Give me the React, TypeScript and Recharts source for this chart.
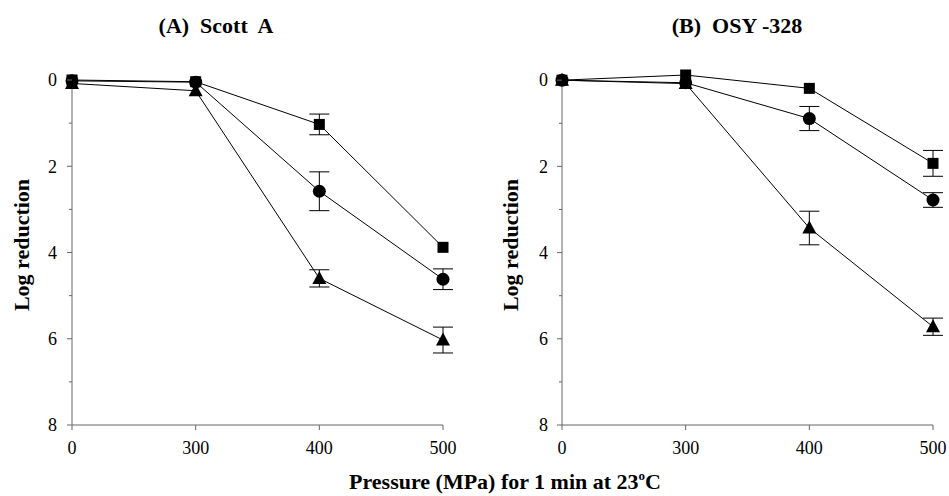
import React from 'react';
import { LineChart, Line, XAxis, YAxis, ErrorBar } from 'recharts';

// ---- data ----
const pressures = ['0', '300', '400', '500'];
const yTicks = [0, 1, 2, 3, 4, 5, 6, 7, 8];

// (A) Scott A
const scottSquare = [0, 0.04, 1.03, 3.88];
const scottSquareErr = [0, 0, 0.24, 0];
const scottCircle = [0.02, 0.05, 2.58, 4.62];
const scottCircleErr = [0, 0, 0.45, 0.24];
const scottTriangle = [0.08, 0.25, 4.6, 6.03];
const scottTriangleErr = [0, 0, 0.2, 0.3];

// (B) OSY-328
const osySquare = [0, -0.12, 0.19, 1.93];
const osySquareErr = [0, 0, 0, 0.3];
const osyCircle = [0, 0.06, 0.89, 2.78];
const osyCircleErr = [0, 0, 0.28, 0.17];
const osyTriangle = [0, 0.08, 3.43, 5.72];
const osyTriangleErr = [0, 0, 0.39, 0.2];

const buildRows = (
  sq: number[], sqE: number[], ci: number[], ciE: number[], tr: number[], trE: number[]
) =>
  pressures.map((p, i) => ({
    p,
    sq: sq[i], sqE: sqE[i],
    ci: ci[i], ciE: ciE[i],
    tr: tr[i], trE: trE[i],
  }));

const scottRows = buildRows(scottSquare, scottSquareErr, scottCircle, scottCircleErr, scottTriangle, scottTriangleErr);
const osyRows = buildRows(osySquare, osySquareErr, osyCircle, osyCircleErr, osyTriangle, osyTriangleErr);

const FONT = "'Liberation Serif', 'DejaVu Serif', serif";
const AXIS = '#666';
const TICK_SIZE = 5;
const TICK_FONT = 18;

const SquareDot = (props: any) => {
  const { cx, cy } = props;
  if (cx == null || cy == null) return null;
  return <rect x={cx - 5.5} y={cy - 5.5} width={11} height={11} fill="#000" />;
};
const CircleDot = (props: any) => {
  const { cx, cy } = props;
  if (cx == null || cy == null) return null;
  return <circle cx={cx} cy={cy} r={6.5} fill="#000" />;
};
const TriangleDot = (props: any) => {
  const { cx, cy } = props;
  if (cx == null || cy == null) return null;
  return <polygon points={`${cx},${cy - 7.5} ${cx - 7},${cy + 5.5} ${cx + 7},${cy + 5.5}`} fill="#000" />;
};

const makeYTick = (margin: number) => (props: any) => {
  const { x, y, payload } = props;
  const v = payload.value;
  const major = v % 2 === 0;
  const ax = x + margin + TICK_SIZE;
  return (
    <g>
      <line x1={ax - (major ? TICK_SIZE : 3)} x2={ax} y1={y} y2={y} stroke={AXIS} strokeWidth={1} />
      {major && (
        <text x={x} y={y} dy="0.35em" textAnchor="end" style={{ fontFamily: FONT, fontSize: TICK_FONT }} fill="#000">
          {v}
        </text>
      )}
    </g>
  );
};

const XTick = (props: any) => {
  const { x, y, payload } = props;
  return (
    <text x={x} y={y} dy="0.68em" textAnchor="middle" style={{ fontFamily: FONT, fontSize: TICK_FONT }} fill="#000">
      {payload.value}
    </text>
  );
};

const Panel = ({ rows, width, yAxisWidth, marginTop, marginRight, tickMargin }: any) => (
  <LineChart
    width={width}
    height={496}
    data={rows}
    margin={{ top: marginTop, right: marginRight, bottom: 41, left: 0 }}
  >
    <XAxis
      dataKey="p"
      type="category"
      interval={0}
      height={30}
      stroke={AXIS}
      tickSize={TICK_SIZE}
      tickMargin={12}
      tick={XTick}
    />
    <YAxis
      type="number"
      reversed
      domain={[0, 8]}
      ticks={yTicks}
      interval={0}
      width={yAxisWidth}
      stroke={AXIS}
      tickLine={false}
      tickSize={TICK_SIZE}
      tickMargin={tickMargin}
      tick={makeYTick(tickMargin)}
    />
    <Line dataKey="tr" stroke="#000" strokeWidth={1} dot={TriangleDot} activeDot={false} isAnimationActive={false}>
      <ErrorBar dataKey="trE" width={10} stroke="#000" strokeWidth={1} isAnimationActive={false} />
    </Line>
    <Line dataKey="ci" stroke="#000" strokeWidth={1} dot={CircleDot} activeDot={false} isAnimationActive={false}>
      <ErrorBar dataKey="ciE" width={10} stroke="#000" strokeWidth={1} isAnimationActive={false} />
    </Line>
    <Line dataKey="sq" stroke="#000" strokeWidth={1} dot={SquareDot} activeDot={false} isAnimationActive={false}>
      <ErrorBar dataKey="sqE" width={10} stroke="#000" strokeWidth={1} isAnimationActive={false} />
    </Line>
  </LineChart>
);

const titleStyle: React.CSSProperties = { fontFamily: FONT, fontSize: 22, fontWeight: 'bold', whiteSpace: 'pre' };
const axisTitleStyle: React.CSSProperties = { fontFamily: FONT, fontSize: 22, fontWeight: 'bold' };

export default function App() {
  return (
    <div style={{ position: 'absolute', left: 0, top: 0, width: 949, height: 496, background: '#fff', overflow: 'hidden' }}>
      <div style={{ position: 'absolute', left: 0, top: 0 }}>
        <Panel rows={scottRows} width={475} yAxisWidth={72} marginTop={80} marginRight={32} tickMargin={10} />
      </div>
      <div style={{ position: 'absolute', left: 475, top: 0 }}>
        <Panel rows={osyRows} width={474} yAxisWidth={87} marginTop={75} marginRight={16} tickMargin={9} />
      </div>
      <svg width={949} height={496} style={{ position: 'absolute', left: 0, top: 0, pointerEvents: 'none' }}>
        <text x={216} y={33} textAnchor="middle" style={titleStyle}>
          (A)  Scott  A
        </text>
        <text x={737} y={33} textAnchor="middle" style={titleStyle}>
          (B)  OSY -328
        </text>
        <text x={28.5} y={245} textAnchor="middle" style={axisTitleStyle} transform="rotate(-90, 28.5, 245)">
          Log reduction
        </text>
        <text x={517.5} y={245} textAnchor="middle" style={axisTitleStyle} transform="rotate(-90, 517.5, 245)">
          Log reduction
        </text>
        <text x={505} y={489} textAnchor="middle" style={axisTitleStyle}>
          Pressure (MPa) for 1 min at 23
          <tspan style={{ fontSize: 13 }} dy={-9}>o</tspan>
          <tspan dy={9}>C</tspan>
        </text>
      </svg>
    </div>
  );
}
